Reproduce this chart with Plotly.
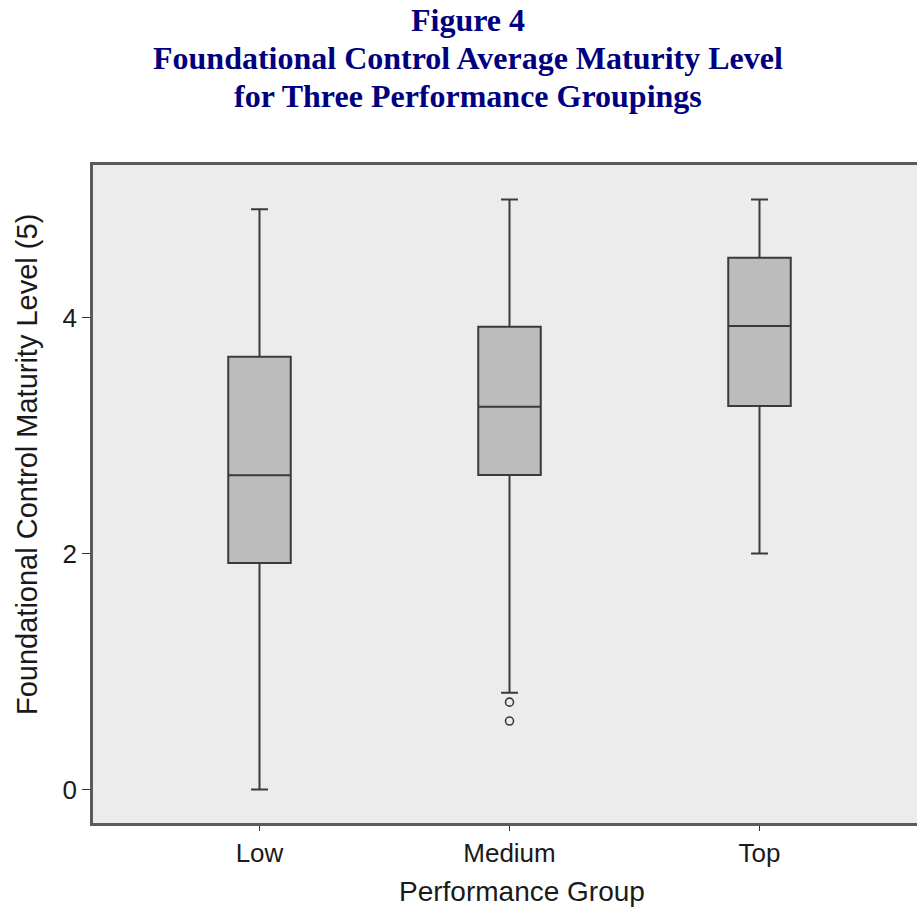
import plotly.graph_objects as go

# Summary statistics per performance group
groups = ["Low", "Medium", "Top"]
lower_whisker = [0.0, 0.82, 2.0]
q1_values = [1.92, 2.665, 3.25]
median_values = [2.663, 3.244, 3.928]
q3_values = [3.668, 3.922, 4.507]
upper_whisker = [4.917, 5.0, 5.0]

# Outlying observations
outlier_groups = ["Medium", "Medium"]
outlier_values = [0.74, 0.58]

y_ticks = [0, 2, 4]

title_lines = [
    "Figure 4",
    "Foundational Control Average Maturity Level",
    "for Three Performance Groupings",
]
y_title = "Foundational Control Maturity Level (5)"
x_title = "Performance Group"

# Plot-area geometry in pixels
W, H = 917, 911
L, R, T, B = 93, 0, 165, 88
plot_w = W - L - R
plot_h = H - T - B

line_col = "#3a3a3a"
text_col = "#1a1a1a"

fig = go.Figure()
fig.add_trace(go.Box(
    x=groups,
    q1=q1_values,
    median=median_values,
    q3=q3_values,
    lowerfence=lower_whisker,
    upperfence=upper_whisker,
    fillcolor="#bcbcbc",
    line=dict(color=line_col, width=2),
    width=0.25,
    whiskerwidth=0.27,
    boxpoints=False,
    showlegend=False,
    hoverinfo="skip",
))
fig.add_trace(go.Scatter(
    x=outlier_groups,
    y=outlier_values,
    mode="markers",
    marker=dict(symbol="circle-open", size=8, color=line_col, line=dict(width=1.6)),
    showlegend=False,
    hoverinfo="skip",
))

# Three-line heading
title_font = dict(family="Liberation Serif", size=32, color="#00007f")
for text, cy in zip(title_lines, [20, 58, 96]):
    fig.add_annotation(
        text="<b>" + text + "</b>",
        xref="paper", yref="paper",
        x=(468 - L) / plot_w, y=1, yshift=T - cy,
        xanchor="center", yanchor="middle",
        showarrow=False, font=title_font,
    )

# Axis titles
fig.add_annotation(
    text=y_title, textangle=-90,
    xref="paper", yref="paper",
    x=0, xshift=27 - L, y=(H - B - 465) / plot_h,
    xanchor="center", yanchor="middle", showarrow=False,
    font=dict(size=29, family="Liberation Sans", color=text_col),
)
fig.add_annotation(
    text=x_title,
    xref="paper", yref="paper",
    x=(522 - L) / plot_w, y=0, yshift=-(891 - (H - B)),
    xanchor="center", yanchor="middle", showarrow=False,
    font=dict(size=28, family="Liberation Sans", color=text_col),
)

fig.update_layout(
    width=W, height=H,
    margin=dict(l=L, r=R, t=T, b=B),
    paper_bgcolor="white",
    plot_bgcolor="#ececec",
    font=dict(family="Liberation Sans", color=text_col),
    xaxis=dict(
        type="category",
        categoryorder="array", categoryarray=groups,
        range=[-0.666, 2.63],
        showline=True, linecolor="#5a5a5a", linewidth=2.5, mirror=True,
        showgrid=False, zeroline=False,
        ticks="outside", ticklen=5, tickcolor="#333",
        tickfont=dict(size=26, family="Liberation Sans", color=text_col),
    ),
    yaxis=dict(
        range=[-0.284, 5.292],
        tickvals=y_ticks,
        showline=True, linecolor="#5a5a5a", linewidth=2.5,
        showgrid=False, zeroline=False,
        ticks="outside", ticklen=8, tickcolor="#333",
        tickfont=dict(size=26, family="Liberation Sans", color=text_col),
    ),
)

fig.write_html("out.html")
